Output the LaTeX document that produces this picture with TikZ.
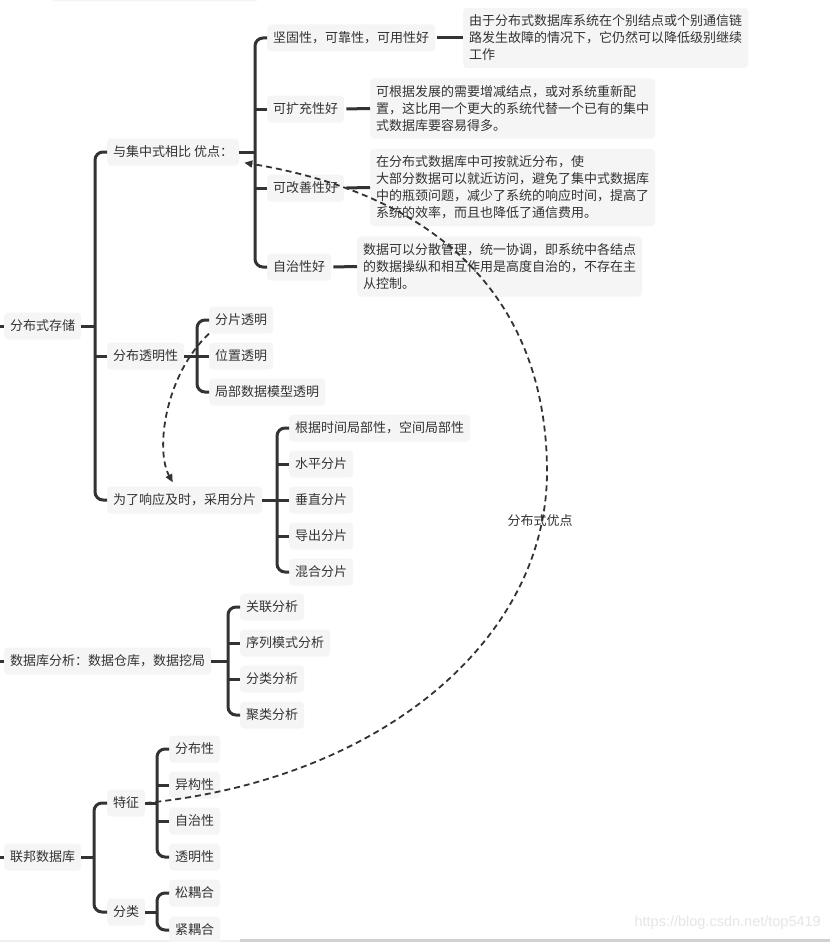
\documentclass[tikz,border=0pt]{standalone}
\usepackage{fontspec}
\setmainfont{Noto Sans CJK SC}
\newfontfamily\wmfont{Liberation Sans}
\usetikzlibrary{arrows.meta}
\definecolor{boxc}{HTML}{F5F5F5}
\definecolor{txtc}{HTML}{333333}
\definecolor{linec}{HTML}{333333}
\definecolor{wmc}{HTML}{E6E6E6}
\tikzset{
  box/.style={fill=boxc, rounded corners=4pt, anchor=west, inner xsep=6pt, inner ysep=0pt,
    minimum height=27pt, text=txtc, font=\fontsize{13}{17}\selectfont},
  desc/.style={box, align=left, inner ysep=7pt},
  br/.style={draw=linec, line width=3pt, rounded corners=8pt},
  stub/.style={draw=linec, line width=3pt},
  rel/.style={draw=linec, line width=1.8pt, dash pattern=on 6pt off 4pt,
    -{Triangle[length=8pt,width=7pt]}},
  lbl/.style={text=txtc, font=\fontsize{13}{17}\selectfont, inner sep=1pt}
}
\begin{document}
\begin{tikzpicture}[x=1pt,y=-1pt]
\fill[white] (0,0) rectangle (830,942);
\useasboundingbox (0,0) rectangle (830,942);
% cropped remnants at the edges
\fill[boxc, rounded corners=3pt] (52,-8) rectangle (258,1.5);
\fill[black!6] (0,939.5) rectangle (240,942);
\fill[black!18] (240,939) rectangle (830,942);

% bracket x positions
\coordinate (bA) at (255,0);
\coordinate (bR) at (95,0);
\coordinate (bT) at (197,0);
\coordinate (bX) at (277,0);
\coordinate (bM) at (228,0);
\coordinate (bF) at (94,0);
\coordinate (bG) at (157,0);

% ---------- 分布式存储 ----------
\node[box] (r1) at (4,326) {分布式存储};
\node[box] (adv) at (107,152) {与集中式相比 优点：};
\node[box] (a1) at (267,38) {坚固性，可靠性，可用性好};
\node[box] (a2) at (267,109) {可扩充性好};
\node[box] (a3) at (267,188) {可改善性好};
\node[box] (a4) at (267,267) {自治性好};
\node[desc] (d1) at (463,38) {由于分布式数据库系统在个别结点或个别通信链\\路发生故障的情况下，它仍然可以降低级别继续\\工作};
\node[desc] (d2) at (370,108.5) {可根据发展的需要增减结点，或对系统重新配\\置，这比用一个更大的系统代替一个已有的集中\\式数据库要容易得多。};
\node[desc] (d3) at (370,187.5) {在分布式数据库中可按就近分布，使\\大部分数据可以就近访问，避免了集中式数据库\\中的瓶颈问题，减少了系统的响应时间，提高了\\系统的效率，而且也降低了通信费用。};
\node[desc] (d4) at (357,266.5) {数据可以分散管理，统一协调，即系统中各结点\\的数据操纵和相互作用是高度自治的，不存在主\\从控制。};

\node[box] (dist) at (107,356) {分布透明性};
\node[box] (t1) at (209,320) {分片透明};
\node[box] (t2) at (209,356) {位置透明};
\node[box] (t3) at (209,392) {局部数据模型透明};

\node[box] (xy) at (107,500) {为了响应及时，采用分片};
\node[box] (s1) at (289,428) {根据时间局部性，空间局部性};
\node[box] (s2) at (289,464) {水平分片};
\node[box] (s3) at (289,500) {垂直分片};
\node[box] (s4) at (289,536) {导出分片};
\node[box] (s5) at (289,572) {混合分片};

% ---------- 数据库分析 ----------
\node[box] (r2) at (4,661) {数据库分析：数据仓库，数据挖局};
\node[box] (m1) at (240,607) {关联分析};
\node[box] (m2) at (240,643) {序列模式分析};
\node[box] (m3) at (240,679) {分类分析};
\node[box] (m4) at (240,715) {聚类分析};

% ---------- 联邦数据库 ----------
\node[box] (r3) at (4,857) {联邦数据库};
\node[box] (f1) at (107,803) {特征};
\node[box] (f2) at (107,912) {分类};
\node[box] (g1) at (169,749) {分布性};
\node[box] (g2) at (169,785) {异构性};
\node[box] (g3) at (169,821) {自治性};
\node[box] (g4) at (169,857) {透明性};
\node[box] (h1) at (169,893) {松耦合};
\node[box] (h2) at (169,930) {紧耦合};

% left stubs from the off-picture root
\coordinate (l1) at (0,326);
\coordinate (l2) at (0,661);
\coordinate (l3) at (0,857);
\draw[stub] (l1) -- (r1.west);
\draw[stub] (l2) -- (r2.west);
\draw[stub] (l3) -- (r3.west);

% brackets
% r1
\draw[stub] (r1.east) -- (r1.east -| bR);
\draw[br] (adv.west) -- (adv.west -| bR) -- (xy.west -| bR) -- (xy.west);
\draw[stub] (dist.west -| bR) -- (dist.west);
% adv
\draw[stub] (adv.east) -- (adv.east -| bA);
\draw[br] (a1.west) -- (a1.west -| bA) -- (a4.west -| bA) -- (a4.west);
\draw[stub] (a2.west -| bA) -- (a2.west);
\draw[stub] (a3.west -| bA) -- (a3.west);
\draw[stub, shorten <=2pt] (a1.east) -- (d1.west);
\draw[stub, shorten <=2pt] (a2.east) -- (d2.west);
\draw[stub, shorten <=2pt] (a3.east) -- (d3.west);
\draw[stub, shorten <=2pt] (a4.east) -- (d4.west);
% dist
\draw[stub] (dist.east) -- (dist.east -| bT);
\draw[br] (t1.west) -- (t1.west -| bT) -- (t3.west -| bT) -- (t3.west);
\draw[stub] (t2.west -| bT) -- (t2.west);
% xy
\draw[stub] (xy.east) -- (xy.east -| bX);
\draw[br] (s1.west) -- (s1.west -| bX) -- (s5.west -| bX) -- (s5.west);
\draw[stub] (s2.west -| bX) -- (s2.west);
\draw[stub] (s3.west -| bX) -- (s3.west);
\draw[stub] (s4.west -| bX) -- (s4.west);
% r2
\draw[stub] (r2.east) -- (r2.east -| bM);
\draw[br] (m1.west) -- (m1.west -| bM) -- (m4.west -| bM) -- (m4.west);
\draw[stub] (m2.west -| bM) -- (m2.west);
\draw[stub] (m3.west -| bM) -- (m3.west);
% r3
\draw[stub] (r3.east) -- (r3.east -| bF);
\draw[br] (f1.west) -- (f1.west -| bF) -- (f2.west -| bF) -- (f2.west);
% f1
\draw[stub] (f1.east) -- (f1.east -| bG);
\draw[br] (g1.west) -- (g1.west -| bG) -- (g4.west -| bG) -- (g4.west);
\draw[stub] (g2.west -| bG) -- (g2.west);
\draw[stub] (g3.west -| bG) -- (g3.west);
% f2
\draw[stub] (f2.east) -- (f2.east -| bG);
\draw[br] (h1.west) -- (h1.west -| bG) -- (h2.west -| bG) -- (h2.west);

% relationship arrows
\draw[rel] (f1.east) .. controls (380,780) and (548,640) .. (547,470)
  .. controls (546,300) and (440,195) .. ([xshift=5pt,yshift=3pt]adv.south east);
\node[lbl] (lab) at (540,521) {分布式优点};
\draw[rel] (t1.south west) .. controls (165,375) and (155,450) .. ([xshift=-12pt,yshift=4pt]xy.north);

% watermark
\node[text=wmc, font=\wmfont\fontsize{14.5}{16}\selectfont, anchor=east, inner sep=0pt] (wm) at (821,923) {https://blog.csdn.net/top5419};
\end{tikzpicture}
\end{document}
